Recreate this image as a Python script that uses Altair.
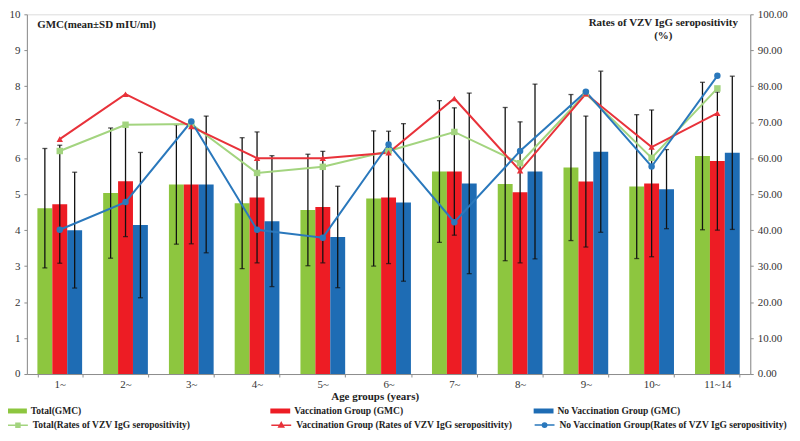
import altair as alt
import pandas as pd

FONT = "Liberation Serif"

ages = ["1~", "2~", "3~", "4~", "5~", "6~", "7~", "8~", "9~", "10~", "11~14"]

gmc_series = ["Total(GMC)", "Vaccination Group (GMC)", "No Vaccination Group (GMC)"]
rate_series = [
    "Total(Rates of VZV IgG seropositivity)",
    "Vaccination Group (Rates of VZV IgG seropositivity)",
    "No Vaccination Group(Rates of VZV IgG seropositivity)",
]

# GMC means and SDs
gmc_total = [4.61, 5.03, 5.27, 4.75, 4.56, 4.88, 5.63, 5.28, 5.74, 5.21, 6.06]
sd_total = [1.66, 1.81, 1.66, 1.82, 1.55, 1.88, 1.97, 2.13, 2.03, 2.00, 2.05]
gmc_vacc = [4.72, 5.36, 5.27, 4.91, 4.64, 4.91, 5.63, 5.05, 5.35, 5.30, 5.92]
sd_vacc = [1.64, 1.54, 1.65, 1.82, 1.55, 1.84, 1.77, 1.96, 1.82, 2.04, 1.92]
gmc_novacc = [4.00, 4.14, 5.27, 4.25, 3.81, 4.77, 5.30, 5.63, 6.18, 5.14, 6.15]
sd_novacc = [1.61, 2.02, 1.90, 1.82, 1.41, 2.19, 2.51, 2.43, 2.24, 1.10, 2.13]

# Seropositivity rates (%)
rate_total = [62.0, 69.3, 69.5, 55.9, 57.6, 62.0, 67.3, 58.6, 78.0, 60.1, 79.4]
rate_vacc = [65.3, 77.8, 68.8, 60.0, 60.0, 61.5, 76.6, 56.5, 77.9, 63.1, 72.5]
rate_novacc = [40.1, 47.8, 70.2, 40.1, 37.9, 63.8, 42.2, 62.0, 78.5, 57.7, 82.9]

bar_colors = ["#8DC63F", "#ED1C24", "#1E6CB4"]
line_colors = ["#A3D47F", "#E8323A", "#2A78BC"]

gmc_rows = []
for s, means, sds in zip(gmc_series, [gmc_total, gmc_vacc, gmc_novacc], [sd_total, sd_vacc, sd_novacc]):
    for a, m, d in zip(ages, means, sds):
        gmc_rows.append({"age": a, "series": s, "mean": m, "sd": d})
gmc_df = pd.DataFrame(gmc_rows)

rate_rows = []
for s, vals in zip(rate_series, [rate_total, rate_vacc, rate_novacc]):
    for a, v in zip(ages, vals):
        rate_rows.append({"age": a, "rseries": s, "rate": v})
rate_df = pd.DataFrame(rate_rows)

x_axis = alt.Axis(
    title="Age groups (years)", labelAngle=0, tickBand="extent", tickSize=3,
    domainColor="#8c8c8c", tickColor="#8c8c8c", labelFont=FONT, labelFontSize=11,
    labelColor="#333333", labelPadding=2, titleFont=FONT, titleFontSize=11,
    titleFontWeight="bold", titleColor="#222222", titlePadding=1, titleX=350,
)
x_enc = alt.X("age:N", sort=ages,
              scale=alt.Scale(domain=ages, paddingInner=0.32, paddingOuter=0.16),
              axis=x_axis)

left_axis = alt.Axis(
    orient="left", values=list(range(0, 11)), format="d", grid=False,
    title="GMC(mean±SD mIU/ml)", titleAngle=0, titleAlign="left",
    titleBaseline="middle", titleX=10, titleY=10, titleFont=FONT,
    titleFontSize=11, titleFontWeight="bold", titleColor="#222222",
    domainColor="#8c8c8c", tickColor="#8c8c8c", tickSize=3, labelPadding=4,
    labelFont=FONT, labelFontSize=11, labelColor="#333333",
)
right_axis = alt.Axis(
    orient="right", values=list(range(0, 101, 10)), format=".2f", grid=False,
    title=["Rates of VZV IgG seropositivity", "(%)"], titleAngle=0,
    titleAlign="center", titleBaseline="top", titleX=-88, titleY=2,
    titleLineHeight=13, titleFont=FONT, titleFontSize=11,
    titleFontWeight="bold", titleColor="#222222",
    domainColor="#8c8c8c", tickColor="#8c8c8c", tickSize=3, labelPadding=4,
    labelFont=FONT, labelFontSize=11, labelColor="#333333",
)

gmc_y_scale = alt.Scale(domain=[0, 10], nice=False, zero=True)
rate_y_scale = alt.Scale(domain=[0, 100], nice=False, zero=True)

xoff = alt.XOffset("series:N", sort=gmc_series,
                   scale=alt.Scale(domain=gmc_series, paddingInner=0, paddingOuter=0))

bar_legend = alt.Legend(
    title=None, orient="none", legendX=-20, legendY=389, direction="horizontal",
    columns=3, gridAlign="all", columnPadding=117, padding=0,
    symbolType="M-1,-0.25L1,-0.25L1,0.25L-1,0.25Z", symbolSize=400,
    symbolStrokeWidth=0, labelOffset=4, labelFont=FONT, labelFontSize=9.6,
    labelFontWeight="bold", labelColor="#222222", labelLimit=400,
)

bars = alt.Chart(gmc_df).mark_bar().encode(
    x=x_enc,
    xOffset=xoff,
    y=alt.Y("mean:Q", scale=gmc_y_scale, axis=left_axis),
    fill=alt.Fill("series:N", scale=alt.Scale(domain=gmc_series, range=bar_colors),
                  legend=bar_legend),
)

err_base = alt.Chart(gmc_df).transform_calculate(
    lo="datum.mean - datum.sd", hi="datum.mean + datum.sd"
)
rules = err_base.mark_rule(color="#111111", strokeWidth=1.3).encode(
    x=x_enc, xOffset=xoff,
    y=alt.Y("lo:Q", scale=gmc_y_scale, axis=left_axis), y2="hi:Q",
)
caps_lo = err_base.mark_tick(color="#111111", thickness=1.3, size=5).encode(
    x=x_enc, xOffset=xoff, y=alt.Y("lo:Q", scale=gmc_y_scale, axis=left_axis),
)
caps_hi = err_base.mark_tick(color="#111111", thickness=1.3, size=5).encode(
    x=x_enc, xOffset=xoff, y=alt.Y("hi:Q", scale=gmc_y_scale, axis=left_axis),
)

gmc_chart = alt.layer(bars, rules, caps_lo, caps_hi)

lines = alt.Chart(rate_df).mark_line(strokeWidth=2).encode(
    x=x_enc,
    y=alt.Y("rate:Q", scale=rate_y_scale, axis=right_axis),
    stroke=alt.Stroke("rseries:N", scale=alt.Scale(domain=rate_series, range=line_colors),
                      legend=None),
)
points = alt.Chart(rate_df).mark_point(filled=True, opacity=1, size=42).encode(
    x=x_enc,
    y=alt.Y("rate:Q", scale=rate_y_scale, axis=right_axis),
    fill=alt.Fill("rseries:N", scale=alt.Scale(domain=rate_series, range=line_colors),
                  legend=None),
    shape=alt.Shape("rseries:N",
                    scale=alt.Scale(domain=rate_series, range=["square", "triangle-up", "circle"]),
                    legend=None),
)
rate_chart = alt.layer(lines, points)

legend_paths = [
    "M-1,0L1,0M-0.2,-0.2L0.2,-0.2L0.2,0.2L-0.2,0.2Z",
    "M-1,0L1,0M0,-0.27L0.25,0.18L-0.25,0.18Z",
    "M-1,0L1,0M0.22,0A0.22,0.22,0,1,1,-0.22,0A0.22,0.22,0,1,1,0.22,0Z",
]
rate_legend = alt.Legend(
    title=None, orient="none", legendX=-20, legendY=402, direction="horizontal",
    columns=3, gridAlign="all", columnPadding=7, padding=0,
    symbolSize=400, symbolStrokeWidth=1.5, symbolOpacity=1, labelOffset=4,
    labelFont=FONT, labelFontSize=9.6, labelFontWeight="bold",
    labelColor="#222222", labelLimit=400,
)
legend_layer = alt.Chart(rate_df).transform_filter("false").mark_point(
    filled=True, opacity=1
).encode(
    x=x_enc,
    y=alt.Y("rate:Q", scale=rate_y_scale, axis=None),
    fill=alt.Fill("rseries:N", scale=alt.Scale(domain=rate_series, range=line_colors),
                  legend=rate_legend),
    stroke=alt.Stroke("rseries:N", scale=alt.Scale(domain=rate_series, range=line_colors),
                      legend=rate_legend),
    shape=alt.Shape("rseries:N", scale=alt.Scale(domain=rate_series, range=legend_paths),
                    legend=rate_legend),
)

chart = alt.layer(gmc_chart, rate_chart, legend_layer).resolve_scale(
    y="independent", fill="independent", stroke="independent", shape="independent"
).properties(
    width=728, height=362,
    autosize=alt.AutoSizeParams(type="none"),
    padding={"left": 19, "top": 5, "right": 42, "bottom": 58},
).configure_view(stroke=None).configure(background="white")

chart.save("out.html", embed_options={"renderer": "svg", "actions": False})
